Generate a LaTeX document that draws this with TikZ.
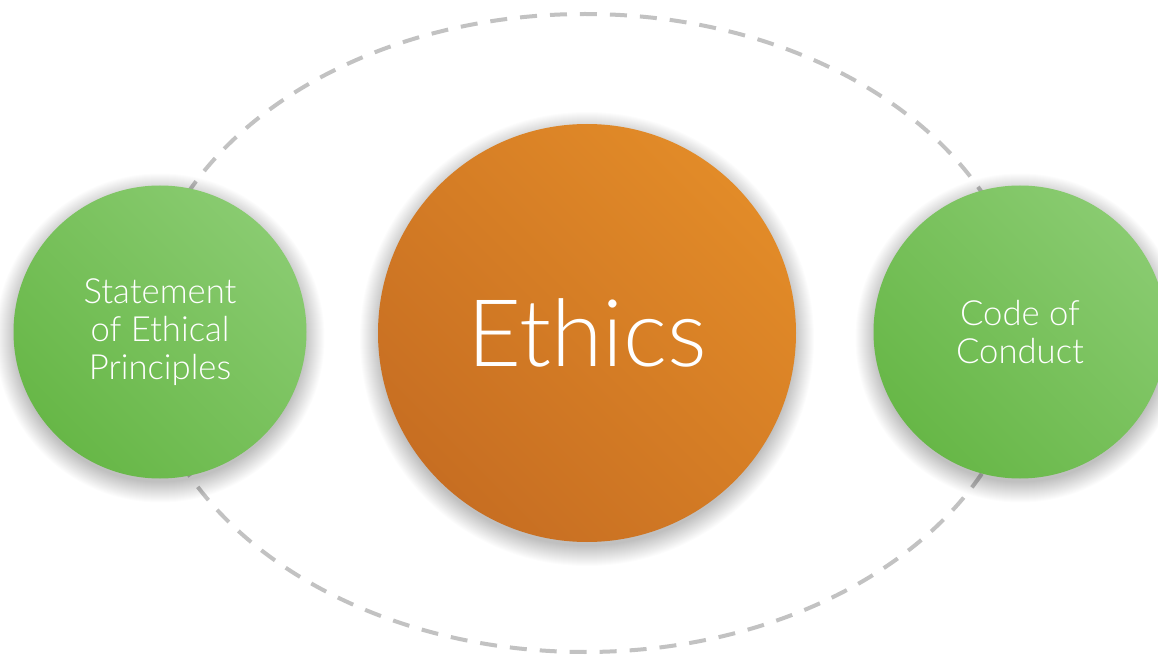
\documentclass[tikz,border=0pt]{standalone}
\usepackage{fontspec}
\setmainfont{Lato}[UprightFont=* Light]
\usetikzlibrary{backgrounds,calc}
\definecolor{orangeL}{HTML}{E28B28}
\definecolor{orangeD}{HTML}{C76E22}
\definecolor{greenL}{HTML}{89CB70}
\definecolor{greenD}{HTML}{67B747}
\definecolor{dashgray}{HTML}{C2C2C2}
\tikzset{
  ring/.style={draw=dashgray, line width=3pt, dash pattern=on 12.75pt off 9.75pt},
  shadowstep/.style={fill=black, opacity=0.011},
  bigcirc/.style={circle, inner sep=0pt, minimum size=313.5pt,
    top color=orangeL, bottom color=orangeD, shading angle=-45,
    text=white, font=\fontsize{70}{84}\selectfont},
  sidecirc/.style={circle, inner sep=0pt, minimum size=219.75pt,
    top color=greenL, bottom color=greenD, shading angle=-45,
    text=white, align=center, font=\fontsize{26}{28.5}\selectfont},
}
\begin{document}
\begin{tikzpicture}[x=0.75pt, y=-0.75pt]
\useasboundingbox (0,0) rectangle (1158,656);
\node[bigcirc] (ethics) at (587,333) {Ethics};
\node[sidecirc] (stmt) at (160,332) {Statement\\of Ethical\\Principles};
\node[sidecirc] (code) at (1020,332) {Code of\\Conduct};
\begin{scope}[on background layer]
  \fill[white] (0,0) rectangle (1158,656);
  \draw[ring] (585,333) ellipse [x radius=442, y radius=319];
  \foreach \n/\r in {ethics/209, stmt/146.5, code/146.5}{
    \foreach \k in {0,...,20}{
      \fill[shadowstep] ($(\n.center)+(0,6)$) circle [radius=\r-2+\k];
    }
  }
\end{scope}
\end{tikzpicture}
\end{document}
